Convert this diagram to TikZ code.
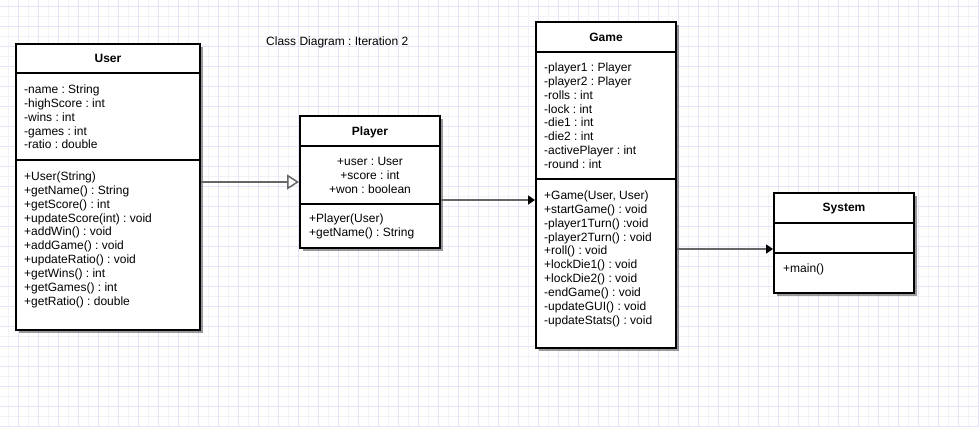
\documentclass[tikz,border=0pt]{standalone}
\usepackage{fontspec}
\setmainfont{Liberation Sans}
\usetikzlibrary{arrows.meta,shadows}
\frenchspacing
\definecolor{gridmajor}{RGB}{228,228,250}
\definecolor{gridminor}{RGB}{242,242,248}
\definecolor{linkgray}{RGB}{102,102,102}
\tikzset{
  classbox/.style={draw=black, line width=2pt, fill=white, inner sep=0pt,
    drop shadow={shadow xshift=3pt, shadow yshift=-3pt, opacity=.4, fill=black}},
  divider/.style={draw=black, line width=2pt},
  classname/.style={font=\fontsize{12}{13.9}\selectfont\bfseries, anchor=base, inner sep=0pt},
  member/.style={font=\fontsize{12}{13.9}\selectfont, anchor=base west, inner sep=0pt},
  link/.style={draw=linkgray, line width=1.5pt}
}
\begin{document}
\begin{tikzpicture}[x=1pt, y=-1pt]
    \useasboundingbox (0,0) rectangle (979,426);
    % Background grid
    \foreach \x in {8,28,...,978} \draw[gridminor, line width=1pt] (\x,0) -- (\x,426);
    \foreach \y in {16,36,...,426} \draw[gridminor, line width=1pt] (0,\y) -- (979,\y);
    \foreach \x in {18,38,...,978} \draw[gridmajor, line width=1pt] (\x,0) -- (\x,426);
    \foreach \y in {6,26,...,426} \draw[gridmajor, line width=1pt] (0,\y) -- (979,\y);

    % Caption
    \node[member] (cap) at (266,45.3) {Class Diagram : Iteration 2};

    % Class boxes
    \node[classbox, minimum width=184pt, minimum height=286pt] (usr) at (108,187) {};
    \node[classbox, minimum width=140pt, minimum height=132pt] (ply) at (370,182) {};
    \node[classbox, minimum width=140pt, minimum height=326pt] (gam) at (606,185) {};
    \node[classbox, minimum width=140pt, minimum height=100pt] (sys) at (844,243) {};

    % Compartment dividers
    \draw[divider] (usr.west |- 0,73) -- (usr.east |- 0,73);
    \draw[divider] (usr.west |- 0,160) -- (usr.east |- 0,160);
    \draw[divider] (ply.west |- 0,146) -- (ply.east |- 0,146);
    \draw[divider] (ply.west |- 0,204) -- (ply.east |- 0,204);
    \draw[divider] (gam.west |- 0,52) -- (gam.east |- 0,52);
    \draw[divider] (gam.west |- 0,179) -- (gam.east |- 0,179);
    \draw[divider] (sys.west |- 0,223) -- (sys.east |- 0,223);
    \draw[divider] (sys.west |- 0,253) -- (sys.east |- 0,253);

    % Class names
    \node[classname] (usrname) at (108,62.3) {User};
    \node[classname] (plyname) at (370,135.3) {Player};
    \node[classname] (gamname) at (606,41.3) {Game};
    \node[classname] (sysname) at (844,211.3) {System};

    % User members
    \foreach \t [count=\i] in {-name : String, -highScore : int, -wins : int,
        -games : int, -ratio : double}
      \node[member] (usra\i) at (24,93.3+13.9*\i-13.9) {\t};
    \foreach \t [count=\i] in {+User(String), +getName() : String, +getScore() : int,
        +updateScore(int) : void, +addWin() : void, +addGame() : void,
        +updateRatio() : void, +getWins() : int, +getGames() : int, +getRatio() : double}
      \node[member] (usrm\i) at (24,180.3+13.9*\i-13.9) {\t};

    % Player members
    \foreach \t [count=\i] in {+user : User, +score : int, +won : boolean}
      \node[member, anchor=base] (plya\i) at (370,165.3+14*\i-14) {\t};
    \foreach \t [count=\i] in {+Player(User), +getName() : String}
      \node[member] (plym\i) at (309,222.3+14*\i-14) {\t};

    % Game members
    \foreach \t [count=\i] in {-player1 : Player, -player2 : Player, -rolls : int,
        -lock : int, -die1 : int, -die2 : int, -activePlayer : int, -round : int}
      \node[member] (gama\i) at (544,71.3+13.9*\i-13.9) {\t};
    \foreach \t [count=\i] in {{+Game(User, User)}, +startGame() : void,
        -player1Turn() :void, -player2Turn() : void, +roll() : void,
        +lockDie1() : void, +lockDie2() : void, -endGame() : void,
        -updateGUI() : void, -updateStats() : void}
      \node[member] (gamm\i) at (544,199.3+13.9*\i-13.9) {\t};

    % System members
    \node[member] (sysm1) at (783,272.3) {+main()};

    % Relations
    \draw[link, -{Triangle[open, length=12pt, width=15pt, line width=1.5pt]}]
      (usr.east |- 0,182) -- (ply.west |- 0,182);
    \draw[link, -{Triangle[length=7pt, width=9pt, black]}]
      (ply.east |- 0,200) -- (gam.west |- 0,200);
    \draw[link, -{Triangle[length=7pt, width=9pt, black]}]
      (gam.east |- 0,249) -- (sys.west |- 0,249);
\end{tikzpicture}
\end{document}
